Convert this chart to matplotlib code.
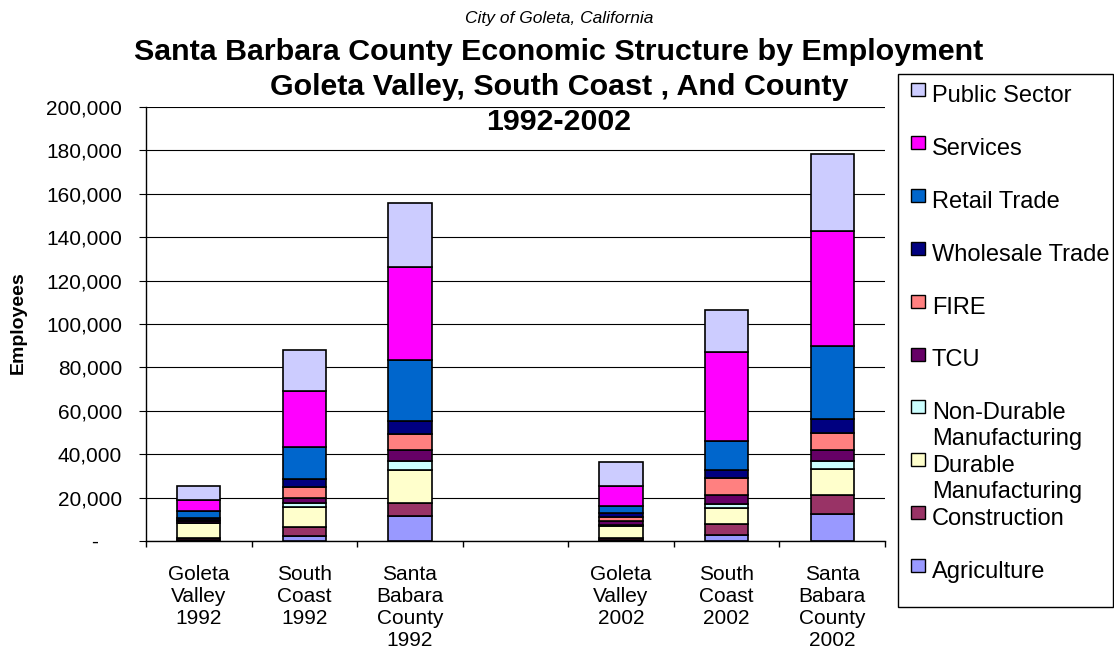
import numpy as np
import matplotlib
matplotlib.use("Agg")
import matplotlib.pyplot as plt
from matplotlib.patches import Rectangle
from matplotlib.ticker import FuncFormatter

plt.rcParams['font.family'] = ['Liberation Sans', 'DejaVu Sans']

# ---- data (employees) ----
areas = ["Goleta\nValley\n1992", "South\nCoast\n1992", "Santa\nBabara\nCounty\n1992",
         "Goleta\nValley\n2002", "South\nCoast\n2002", "Santa\nBabara\nCounty\n2002"]

agriculture   = [300,  2300, 11500,   300,  2600, 12300]
construction  = [1000, 4000,  6000,  1200,  5100,  8800]
durable_mfg   = [6900, 9200, 15400,  5400,  7700, 12000]
nondurable_mfg = [300, 2100,  3800,   700,  1500,  3700]
tcu           = [500,  2000,  5400,  1500,  4500,  5100]
fire          = [600,  5100,  7400,  2000,  7700,  8100]
wholesale     = [1000, 3800,  5700,  1800,  3500,  6100]
retail        = [3100, 15000, 28100, 3100, 13400, 33800]
services      = [5200, 25800, 43000, 9500, 41200, 52800]
public_sector = [6400, 18700, 29500, 11000, 19200, 35600]

sectors = ["Agriculture", "Construction", "Durable\nManufacturing",
           "Non-Durable\nManufacturing", "TCU", "FIRE", "Wholesale Trade",
           "Retail Trade", "Services", "Public Sector"]
series = [agriculture, construction, durable_mfg, nondurable_mfg, tcu, fire,
          wholesale, retail, services, public_sector]
colors = ["#9999FF", "#993366", "#FFFFCC", "#CCFFFF", "#660066", "#FF8080",
          "#000080", "#0066CC", "#FF00FF", "#CCCCFF"]

title_lines = ["Santa Barbara County Economic Structure by Employment",
               "Goleta Valley, South Coast , And County",
               "1992-2002"]

# one empty slot between the two years
xpos = np.array([0, 1, 2, 4, 5, 6])

W, H = 1114, 662
fig = plt.figure(figsize=(W / 100, H / 100), dpi=100)
ax = fig.add_axes([146 / W, 1 - 541 / H, (885 - 146) / W, (541 - 107) / H])

bottom = np.zeros(len(xpos))
for vals, col in zip(series, colors):
    ax.bar(xpos, vals, bottom=bottom, width=0.41, color=col,
           edgecolor="black", linewidth=1.2, zorder=3)
    bottom += np.array(vals)

ax.set_xlim(-0.5, 6.5)
ax.set_ylim(0, 200000)
ax.set_yticks(np.arange(0, 200001, 20000))
ax.yaxis.set_major_formatter(FuncFormatter(lambda v, p: "-    " if v == 0 else f"{int(v):,}"))
ax.grid(axis="y", color="black", linewidth=0.8, zorder=0)

# boundary ticks between categories, labels centred in each slot
ax.set_xticks(np.arange(-0.5, 7, 1))
ax.set_xticklabels([])
ax.set_xticks(np.arange(0, 7), minor=True)
slot_labels = areas[:3] + [""] + areas[3:]
ax.set_xticklabels(slot_labels, minor=True, fontsize=15, va="top", linespacing=1.2)
ax.tick_params(axis="x", which="major", length=4.5, direction="out", width=1)
ax.tick_params(axis="x", which="minor", length=0, pad=17)
ax.tick_params(axis="y", length=4.8, direction="out", labelsize=15, pad=12.5)

for side in ["top", "right"]:
    ax.spines[side].set_visible(False)
ax.spines["left"].set_linewidth(1)
ax.spines["bottom"].set_linewidth(1)

fig.text(18 / W, 1 - 323 / H, "Employees", rotation=90, fontsize=14,
         fontweight="bold", ha="center", va="center")

# titles
fig.text(559 / W, 1 - 18 / H, "City of Goleta, California", fontsize=12.5,
         style="italic", ha="center", va="center")
for k, line in enumerate(title_lines):
    fig.text(559 / W, 1 - (52 + 35 * k) / H, line, fontsize=21.9,
             fontweight="bold", ha="center", va="center")

# legend box, entries listed top-down
fig.patches.append(Rectangle((898 / W, 1 - 607 / H), (1113 - 898) / W, (607 - 74) / H,
                             transform=fig.transFigure, fill=False,
                             edgecolor="black", linewidth=1))
for i, (name, col) in enumerate(zip(sectors[::-1], colors[::-1])):
    base = 102 + 52.9 * i
    fig.patches.append(Rectangle((911 / W, 1 - (base - 6) / H), 14 / W, 13 / H,
                                 transform=fig.transFigure, facecolor=col,
                                 edgecolor="black", linewidth=1))
    for k, line in enumerate(name.split("\n")):
        fig.text(932 / W, 1 - (base + 26 * k) / H, line, fontsize=17,
                 ha="left", va="baseline")

fig.savefig("out.png", dpi=100)
